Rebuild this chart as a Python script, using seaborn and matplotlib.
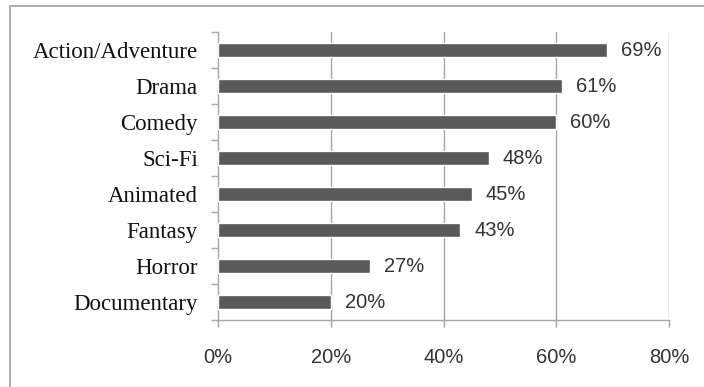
import matplotlib
matplotlib.use("Agg")
import matplotlib.pyplot as plt
import seaborn as sns
import pandas as pd
from matplotlib.patches import Rectangle

categories = ["Action/Adventure", "Drama", "Comedy", "Sci-Fi", "Animated", "Fantasy", "Horror", "Documentary"]
values = [69, 61, 60, 48, 45, 43, 27, 20]
xticks = [0, 20, 40, 60, 80]
xtick_labels = ["0%", "20%", "40%", "60%", "80%"]

df = pd.DataFrame({"genre": categories, "pct": values})

sns.set_theme(style="white")
plt.rcParams["font.family"] = ["Liberation Serif", "DejaVu Sans"]

W, H = 704, 387
fig = plt.figure(figsize=(W / 100, H / 100), dpi=100)
ax = fig.add_axes([218 / W, 1 - 320 / H, (669 - 218) / W, (320 - 32) / H])

sns.barplot(data=df, x="pct", y="genre", orient="h", color="#595959",
            width=0.39, saturation=1, ax=ax, zorder=3)

grid_c = "#a6a6a6"
num_font = ["Liberation Sans", "DejaVu Sans"]
ax.set_xlim(0, 80)
ax.set_ylim(len(categories) - 0.5, -0.5)
ax.set_xticks(xticks)
ax.set_xticklabels(xtick_labels, family=num_font, fontsize=14.5, color="#333333")
for x in xticks[1:]:
    ax.axvline(x, color=grid_c, lw=1, zorder=1)
ax.set_xlabel("")
ax.set_ylabel("")

for s in ["top", "right"]:
    ax.spines[s].set_visible(False)
for s in ["left", "bottom"]:
    ax.spines[s].set_color(grid_c)
    ax.spines[s].set_linewidth(1)

# y ticks at category boundaries
ax.set_yticks([i - 0.5 for i in range(len(categories) + 1)], minor=False)
ax.set_yticklabels([""] * (len(categories) + 1))
ax.set_yticks(range(len(categories)), minor=True)
ax.set_yticklabels(categories, minor=True, fontsize=16.5, color="#111111")
ax.tick_params(axis="y", which="major", length=5, color=grid_c, width=1, direction="out", left=True)
ax.tick_params(axis="y", which="minor", length=0, pad=14.5)
ax.tick_params(axis="x", length=5, color=grid_c, width=1, direction="out", bottom=True, pad=15)

for i, v in enumerate(values):
    ax.annotate(f"{v}%", xy=(v, i), xytext=(10, 0), textcoords="offset points",
                va="center", ha="left", fontsize=14.5,
                family=num_font, color="#333333")

fig.patches.append(Rectangle((10 / W, -0.1), 1.2, 1 - 6 / H + 0.1, transform=fig.transFigure,
                             fill=False, edgecolor="#a0a0a0", lw=1.2))

fig.savefig("out.png", dpi=100)
